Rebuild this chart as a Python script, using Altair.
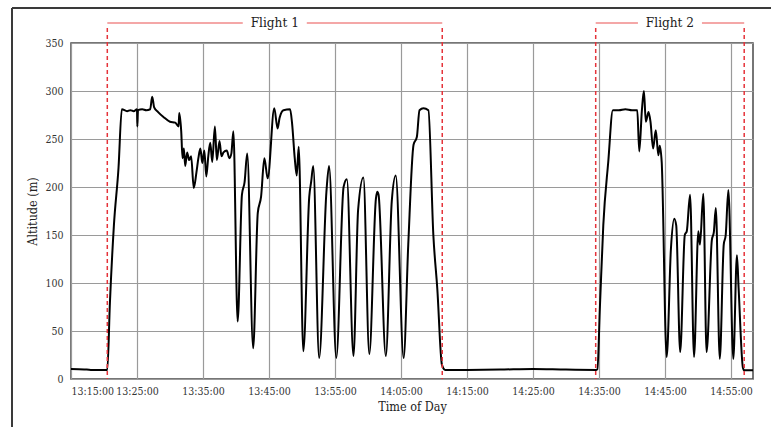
import altair as alt
import pandas as pd

DAY = "2024-01-01T"

# Logged altitude track (clock time, metres)
times = [
    "13:15:00", "13:17:00", "13:18:00", "13:20:24", "13:20:30", "13:20:54", "13:21:30", "13:22:12",
    "13:22:42", "13:23:30", "13:24:00", "13:24:30", "13:25:00", "13:25:03", "13:25:09", "13:25:48",
    "13:26:24", "13:27:00", "13:27:18", "13:27:36", "13:28:12", "13:29:00", "13:30:00", "13:30:48",
    "13:31:18", "13:31:24", "13:31:42", "13:31:54", "13:32:06", "13:32:18", "13:32:36", "13:32:54",
    "13:33:12", "13:33:36", "13:34:00", "13:34:18", "13:34:36", "13:34:54", "13:35:12", "13:35:30",
    "13:35:48", "13:36:06", "13:36:24", "13:36:48", "13:37:06", "13:37:30", "13:37:48", "13:38:06",
    "13:38:36", "13:39:00", "13:39:18", "13:39:36", "13:40:15", "13:40:54", "13:41:18", "13:41:42",
    "13:42:36", "13:43:18", "13:43:48", "13:44:18", "13:44:48", "13:45:48", "13:46:18", "13:46:36",
    "13:47:12", "13:48:12", "13:48:30", "13:48:54", "13:49:12", "13:49:30", "13:50:12", "13:51:06",
    "13:51:24", "13:51:42", "13:52:36", "13:53:42", "13:54:06", "13:55:12", "13:56:18", "13:56:48",
    "13:57:48", "13:58:30", "13:59:18", "14:00:12", "14:01:12", "14:01:24", "14:01:36", "14:02:42",
    "14:03:36", "14:04:12", "14:05:24", "14:06:06", "14:06:54", "14:07:24", "14:07:48", "14:08:24",
    "14:09:09", "14:09:54", "14:10:30", "14:11:12", "14:11:42", "14:15:00", "14:20:00", "14:25:00",
    "14:30:00", "14:34:36", "14:34:45", "14:35:09", "14:35:39", "14:36:24", "14:37:06", "14:38:00",
    "14:39:00", "14:40:00", "14:40:48", "14:41:06", "14:41:30", "14:41:48", "14:42:06", "14:42:30",
    "14:42:48", "14:43:12", "14:43:36", "14:44:00", "14:44:12", "14:44:30", "14:45:15", "14:45:54",
    "14:46:24", "14:46:42", "14:47:18", "14:48:00", "14:48:18", "14:48:48", "14:49:24", "14:50:03",
    "14:50:18", "14:50:48", "14:51:18", "14:52:06", "14:52:24", "14:52:42", "14:53:18", "14:53:54",
    "14:54:12", "14:54:36", "14:55:21", "14:55:54", "14:56:09", "14:56:48", "14:57:00", "14:58:20",
]
altitude = [
    10.5, 10, 9.5, 9.5, 9.5, 80, 160, 220,
    281, 279, 280, 279, 281, 263, 280, 281,
    280, 281, 294, 283, 278, 273, 268, 267,
    263, 277, 258, 230, 240, 222, 236, 228,
    232, 199, 215, 230, 240, 225, 238, 211,
    232, 246, 226, 263, 228, 248, 232, 236,
    238, 230, 235, 258, 60, 192, 205, 235,
    32, 173, 190, 230, 209, 282, 261, 272,
    280, 281, 266, 230, 212, 242, 29, 190,
    206, 222, 22, 195, 222, 22, 200, 208,
    24, 176, 210, 26, 188, 195, 192, 24,
    185, 212, 22, 140, 244, 252, 280, 282,
    280, 150, 94, 15, 9.5, 9.5, 9.8, 10.5,
    9.8, 9.5, 10, 77, 160, 226, 280, 280,
    281, 280, 280, 237, 280, 300, 268, 278,
    268, 240, 259, 233, 243, 226, 23, 136,
    167, 160, 28, 150, 154, 192, 23, 154,
    140, 193, 28, 145, 153, 178, 21, 140,
    150, 197, 21, 129, 95, 12, 9, 9,
]

# Flight windows
flight_labels = ["Flight 1", "Flight 2"]
flight_start = ["13:20:30", "14:34:30"]
flight_end = ["14:11:15", "14:57:00"]

x_ticks = ["13:15", "13:25", "13:35", "13:45", "13:55", "14:05",
           "14:15", "14:25", "14:35", "14:45", "14:55"]
y_ticks = [0, 50, 100, 150, 200, 250, 300, 350]

track = pd.DataFrame({"t": [DAY + t for t in times], "alt": altitude})

fl = pd.DataFrame({
    "label": flight_labels,
    "start": pd.to_datetime([DAY + t for t in flight_start]),
    "end": pd.to_datetime([DAY + t for t in flight_end]),
})
fl["mid"] = fl["start"] + (fl["end"] - fl["start"]) / 2
gap = pd.Timedelta(seconds=291)  # half-width of the space left for the label

bounds = pd.DataFrame({"t": list(fl["start"]) + list(fl["end"])})
segs = pd.DataFrame({
    "a": list(fl["start"]) + list(fl["mid"] + gap),
    "b": list(fl["mid"] - gap) + list(fl["end"]),
})

def dt(hm):
    h, m = hm.split(":")
    return alt.DateTime(year=2024, month=1, date=1, hours=int(h), minutes=int(m))

x_scale = alt.Scale(domain=[dt("13:15"), alt.DateTime(year=2024, month=1, date=1,
                                                       hours=14, minutes=58, seconds=20)])
y_scale = alt.Scale(domain=[0, 350])

SERIF = "DejaVu Serif Condensed"
RED = "#e5333a"
H = 336

line = alt.Chart(track).mark_line(color="black", strokeWidth=2, strokeJoin="round",
                                  interpolate="monotone").encode(
    x=alt.X("t:T", scale=x_scale, title="Time of Day",
            axis=alt.Axis(values=[dt(v) for v in x_ticks], format="%H:%M:%S",
                          grid=True, ticks=False, labelPadding=7, titlePadding=4,
                          labelOverlap=False)),
    y=alt.Y("alt:Q", scale=y_scale, title="Altitude (m)",
            axis=alt.Axis(values=y_ticks, grid=True, ticks=False, labelPadding=8,
                          titlePadding=5)),
)

vlines = alt.Chart(bounds).mark_rule(color=RED, strokeWidth=1.5, strokeDash=[4, 3]).encode(
    x=alt.X("t:T", scale=x_scale),
    y=alt.value(-15),
    y2=alt.value(H),
)

brackets = alt.Chart(segs).mark_rule(color="#f08a8a", strokeWidth=1.5).encode(
    x=alt.X("a:T", scale=x_scale),
    x2="b:T",
    y=alt.value(-20),
)

labels = alt.Chart(fl).mark_text(font=SERIF, fontSize=13.5, color="#222", baseline="middle").encode(
    x=alt.X("mid:T", scale=x_scale),
    y=alt.value(-20),
    text="label:N",
)

# outer frame (top and left edges)
frame_top = alt.Chart(track).mark_rule(color="#3a3a3a", strokeWidth=2).encode(
    x=alt.value(-59), x2=alt.value(700), y=alt.value(-35))
frame_left = alt.Chart(track).mark_rule(color="#3a3a3a", strokeWidth=2).encode(
    x=alt.value(-59), y=alt.value(-35), y2=alt.value(384))

chart = alt.layer(line, vlines, brackets, labels, frame_top, frame_left).properties(
    width=682, height=H,
    autosize=alt.AutoSizeParams(type="none"),
    padding={"left": 71, "top": 43, "right": 18, "bottom": 48},
    background="white",
).configure_view(
    stroke="#4a4a4a", strokeWidth=1.5,
).configure_axis(
    labelFont=SERIF, titleFont=SERIF, labelFontSize=10.5, titleFontSize=12.5,
    labelColor="#333", titleColor="#222", titleFontWeight="normal",
    gridColor="#9a9a9a", gridWidth=1.2, domain=False,
)

chart.save("out.html", embed_options={"renderer": "svg", "actions": False})
